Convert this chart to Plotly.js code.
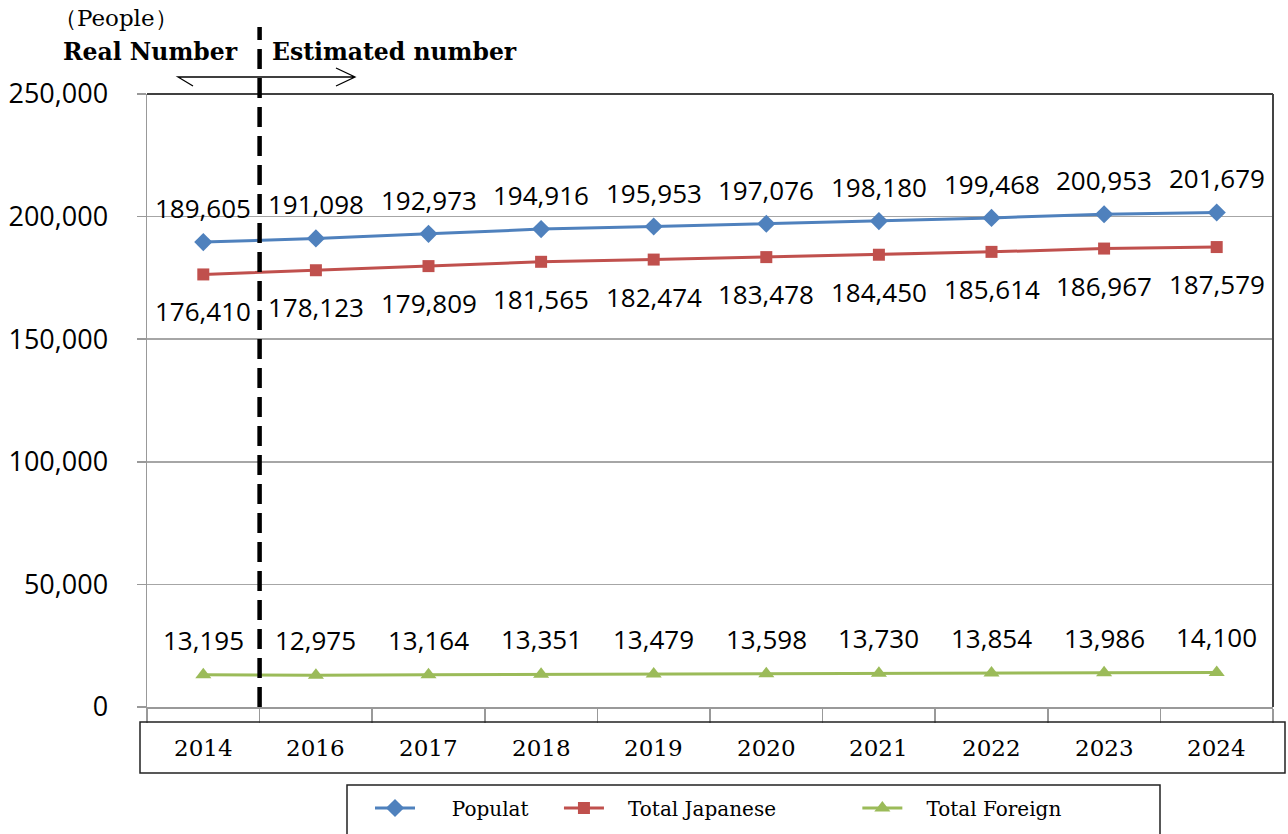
<!DOCTYPE html>
<html>
<head>
<meta charset="utf-8">
<script src="https://cdn.plot.ly/plotly-3.0.1.min.js"></script>
<style>html,body{margin:0;padding:0;background:#fff;}#chart{width:1288px;height:834px;}</style>
</head>
<body>
<div id="chart"></div>
<script>
const years = ["2014","2016","2017","2018","2019","2020","2021","2022","2023","2024"];
const population = [189605,191098,192973,194916,195953,197076,198180,199468,200953,201679];
const japanese = [176410,178123,179809,181565,182474,183478,184450,185614,186967,187579];
const foreign = [13195,12975,13164,13351,13479,13598,13730,13854,13986,14100];
const seriesNames = ["Populat","Total Japanese","Total Foreign"];
const yTicks = [0,50000,100000,150000,200000,250000];

const W = 1288, H = 834;
const L = 147, R = 1273, T = 94, B = 707;
const pw = R - L, ph = B - T;
const px = v => (v - L) / pw;
const py = v => (B - v) / ph;

const blue = "#4F81BD", red = "#C0504D", green = "#9BBB59";
const labelFont = {family: "Open Sans, sans-serif", size: 26, color: "#000"};
const serif = "DejaVu Serif, Liberation Serif, serif";
const sp = n => "\u00a0".repeat(n);

const traces = [
  {x: years, y: population, name: sp(5) + seriesNames[0] + sp(4), type: "scatter", mode: "lines+markers",
   line: {color: blue, width: 3}, marker: {symbol: "diamond", size: 14, color: blue}},
  {x: years, y: japanese, name: sp(3) + seriesNames[1] + sp(12), type: "scatter", mode: "lines+markers",
   line: {color: red, width: 3}, marker: {symbol: "square", size: 12, color: red}},
  {x: years, y: foreign, name: sp(3) + seriesNames[2], type: "scatter", mode: "lines+markers",
   line: {color: green, width: 3}, marker: {symbol: "triangle-up", size: 14, color: green}}
];

const fmt = v => v.toLocaleString("en-US");
const annotations = [];
years.forEach((yr, i) => {
  annotations.push({x: i, y: population[i], xref: "x", yref: "y", text: fmt(population[i]), showarrow: false, yshift: 34, font: labelFont});
  annotations.push({x: i, y: japanese[i], xref: "x", yref: "y", text: fmt(japanese[i]), showarrow: false, yshift: -37, font: labelFont});
  annotations.push({x: i, y: foreign[i], xref: "x", yref: "y", text: fmt(foreign[i]), showarrow: false, yshift: 35, font: labelFont});
  annotations.push({x: i, y: py(748), xref: "x", yref: "paper", text: yr, showarrow: false, yanchor: "middle",
    font: {family: serif, size: 23, color: "#000"}});
});
annotations.push({x: px(52), y: py(18), xref: "paper", yref: "paper", xanchor: "left", yanchor: "middle", showarrow: false,
  text: "（People）", font: {family: serif, size: 23, color: "#000"}});
annotations.push({x: px(61), y: py(52), xref: "paper", yref: "paper", xanchor: "left", yanchor: "middle", showarrow: false,
  text: "<b>Real Number</b>", font: {family: serif, size: 23.5, color: "#000"}});
annotations.push({x: px(270), y: py(52), xref: "paper", yref: "paper", xanchor: "left", yanchor: "middle", showarrow: false,
  text: "<b>Estimated number</b>", font: {family: serif, size: 23.5, color: "#000"}});

const pathP = pts => pts.map((p, k) => (k ? "L" : "M") + px(p[0]) + "," + py(p[1])).join(" ");
const shapes = [
  {type: "line", xref: "paper", yref: "paper", x0: 0, x1: 1, y0: 1, y1: 1, line: {color: "#000", width: 1.5}},
  {type: "line", xref: "paper", yref: "paper", x0: 1, x1: 1, y0: 0, y1: 1, line: {color: "#444", width: 2}},
  {type: "line", xref: "x", yref: "paper", x0: 0.5, x1: 0.5, y0: 0, y1: py(27), layer: "above",
   line: {color: "#000", width: 4.5, dash: "20px,9px"}},
  {type: "path", xref: "paper", yref: "paper", path: pathP([[260,77],[178,77],[193,86]]), line: {color: "#000", width: 1.3}},
  {type: "path", xref: "paper", yref: "paper", path: pathP([[260,77],[355,77]]) + " " + pathP([[336,68],[355,77],[336,86]]), line: {color: "#000", width: 1.3}},
  {type: "rect", xref: "paper", yref: "paper", x0: px(140), x1: px(1285), y0: py(773), y1: py(722), line: {color: "#222", width: 1.5}},
  {type: "rect", xref: "paper", yref: "paper", x0: px(347), x1: px(1160), y0: py(845), y1: py(785), line: {color: "#222", width: 1.5}}
];

const layout = {
  width: W, height: H,
  margin: {l: L, r: W - R, t: T, b: H - B, pad: 0, autoexpand: false},
  paper_bgcolor: "#fff", plot_bgcolor: "#fff",
  showlegend: true,
  legend: {orientation: "h", x: px(370), xanchor: "left", y: py(808), yanchor: "middle",
    font: {family: serif, size: 20, color: "#000"}, bgcolor: "rgba(0,0,0,0)", borderwidth: 0,
    itemwidth: 40, tracegroupgap: 0},
  xaxis: {type: "category", range: [-0.5, 9.5], showticklabels: false, ticks: "outside", ticklen: 14,
    tickcolor: "#999", tickwidth: 1.5, tickson: "boundaries", showgrid: false, showline: true, linecolor: "#999", linewidth: 1.5,
    zeroline: false, fixedrange: true},
  yaxis: {range: [0, 250000], tickvals: yTicks, ticktext: yTicks.map(fmt), ticks: "outside", ticklen: 9,
    tickcolor: "#999", tickwidth: 1.5, showgrid: true, gridcolor: "#a6a6a6", gridwidth: 1.5,
    showline: true, linecolor: "#999", linewidth: 1.5, zeroline: false, ticklabelstandoff: 23,
    tickfont: {family: "Open Sans, sans-serif", size: 27, color: "#000"}, fixedrange: true},
  annotations: annotations,
  shapes: shapes
};

Plotly.newPlot("chart", traces, layout, {displayModeBar: false, staticPlot: true});
</script>
</body>
</html>
